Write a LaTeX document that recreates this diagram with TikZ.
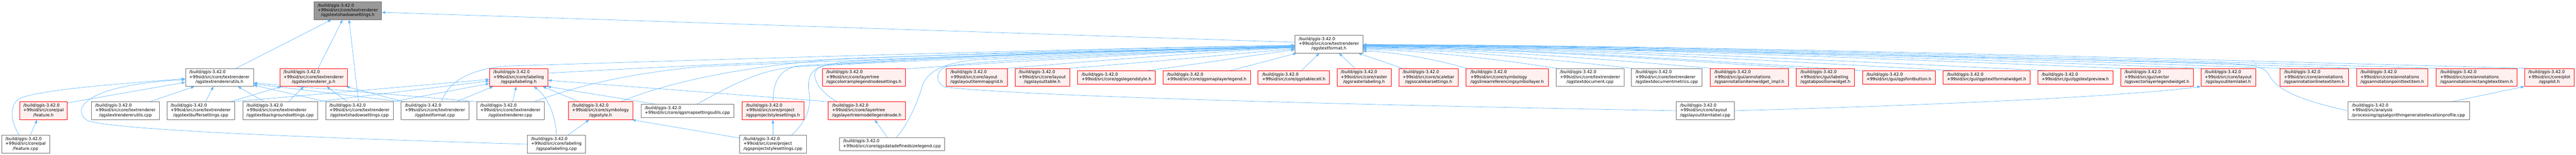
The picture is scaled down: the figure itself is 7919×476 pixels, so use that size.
\documentclass[tikz,border=0pt]{standalone}
\usepackage{fontspec}
\setmainfont{DejaVu Sans}
\usetikzlibrary{arrows.meta}
\definecolor{edgeblue}{HTML}{63B8FF}
\definecolor{redfill}{HTML}{FFF0F0}
\definecolor{rootfill}{HTML}{999999}
\definecolor{bordgray}{HTML}{707070}
\pgfdeclarelayer{bg}
\pgfsetlayers{bg,main}
\newcommand{\dxthree}[2]{\begin{tabular}{@{}l@{}}/build/qgis-3.42.0\\#1\\\multicolumn{1}{@{}c@{}}{#2}\end{tabular}}
\newcommand{\dxtwo}[1]{\begin{tabular}{@{}l@{}}/build/qgis-3.42.0\\#1\end{tabular}}
\begin{document}
\begin{tikzpicture}[x=1pt,y=-1pt,
  nd/.style={draw, rectangle, inner sep=0pt, line width=1pt, minimum height=55pt,
    font=\fontsize{12.8pt}{14.7pt}\selectfont},
  two/.style={minimum height=40pt},
  wn/.style={nd, fill=white, draw=bordgray},
  rn/.style={nd, fill=redfill, draw=red},
  rootnd/.style={nd, fill=rootfill, draw=bordgray},
  conn/.style={draw=edgeblue, line width=1.1pt, -{Triangle[length=11pt,width=8pt]}}]
\useasboundingbox (0,0) rectangle (7919,476);
% row 1
\node[rootnd, minimum width=208pt] (root) at (1069,32.5) {\dxthree{+99sid/src/core/textrenderer}{/qgstextshadowsettings.h}};
\node[wn, minimum width=208pt] (tf) at (4085,135.5) {\dxthree{+99sid/src/core/textrenderer}{/qgstextformat.h}};
% row 2
\node[wn, minimum width=209pt] (utilsh) at (674.5,238) {\dxthree{+99sid/src/core/textrenderer}{/qgstextrendererutils.h}};
\node[rn, minimum width=208pt] (rendp) at (964,238) {\dxthree{+99sid/src/core/textrenderer}{/qgstextrenderer\_p.h}};
\node[rn, minimum width=179pt] (pallh) at (1594.5,238) {\dxthree{+99sid/src/core/labeling}{/qgspallabeling.h}};
\node[rn, minimum width=255pt] (colorramp) at (2655.5,238) {\dxthree{+99sid/src/core/layertree}{/qgscolorramplegendnodesettings.h}};
\node[rn, minimum width=187pt] (mapgrid) at (3002.5,238) {\dxthree{+99sid/src/core/layout}{/qgslayoutitemmapgrid.h}};
\node[rn, minimum width=168pt] (ltable) at (3204,238) {\dxthree{+99sid/src/core/layout}{/qgslayouttable.h}};
\node[rn, two, minimum width=240pt] (lstyle) at (3432,238) {\dxtwo{+99sid/src/core/qgslegendstyle.h}};
\node[rn, two, minimum width=269pt] (mlegend) at (3709.5,238) {\dxtwo{+99sid/src/core/qgsmaplayerlegend.h}};
\node[rn, two, minimum width=220pt] (tcell) at (3977,238) {\dxtwo{+99sid/src/core/qgstablecell.h}};
\node[rn, minimum width=166pt] (rlabel) at (4193,238) {\dxthree{+99sid/src/core/raster}{/qgsrasterlabeling.h}};
\node[rn, minimum width=183pt] (scalebar) at (4391.5,238) {\dxthree{+99sid/src/core/scalebar}{/qgsscalebarsettings.h}};
\node[rn, minimum width=252pt] (linref) at (4633,238) {\dxthree{+99sid/src/core/symbology}{/qgslinearreferencingsymbollayer.h}};
\node[wn, minimum width=208pt] (tdoccpp) at (4888,238) {\dxthree{+99sid/src/core/textrenderer}{/qgstextdocument.cpp}};
\node[wn, minimum width=217pt] (tdocmcpp) at (5123.5,238) {\dxthree{+99sid/src/core/textrenderer}{/qgstextdocumentmetrics.cpp}};
\node[rn, minimum width=241pt] (annwidget) at (5377.5,238) {\dxthree{+99sid/src/gui/annotations}{/qgsannotationitemwidget\_impl.h}};
\node[rn, minimum width=179pt] (tabpos) at (5611.5,238) {\dxthree{+99sid/src/gui/labeling}{/qgstabpositionwidget.h}};
\node[rn, two, minimum width=223pt] (fontbtn) at (5837.5,238) {\dxtwo{+99sid/src/gui/qgsfontbutton.h}};
\node[rn, two, minimum width=268pt] (tfwidget) at (6107,238) {\dxtwo{+99sid/src/gui/qgstextformatwidget.h}};
\node[rn, two, minimum width=231pt] (tpreview) at (6379.5,238) {\dxtwo{+99sid/src/gui/qgstextpreview.h}};
\node[rn, minimum width=223pt] (vllw) at (6630.5,238) {\dxthree{+99sid/src/gui/vector}{/qgsvectorlayerlegendwidget.h}};
\node[rn, minimum width=168pt] (lilh) at (6850,238) {\dxthree{+99sid/src/core/layout}{/qgslayoutitemlabel.h}};
\node[rn, minimum width=211pt] (anline) at (7114.5,238) {\dxthree{+99sid/src/core/annotations}{/qgsannotationlinetextitem.h}};
\node[rn, minimum width=220pt] (anpoint) at (7354,238) {\dxthree{+99sid/src/core/annotations}{/qgsannotationpointtextitem.h}};
\node[rn, minimum width=248pt] (anrect) at (7613,238) {\dxthree{+99sid/src/core/annotations}{/qgsannotationrectangletextitem.h}};
\node[rn, minimum width=152pt] (ploth) at (7837,238) {\dxthree{+99sid/src/core/plot}{/qgsplot.h}};
% row 3
\node[rn, minimum width=147pt] (feath) at (133.5,340.5) {\dxthree{+99sid/src/core/pal}{/feature.h}};
\node[wn, minimum width=209pt] (rutilscpp) at (385.5,340.5) {\dxthree{+99sid/src/core/textrenderer}{/qgstextrendererutils.cpp}};
\node[wn, minimum width=208pt] (buffcpp) at (617,340.5) {\dxthree{+99sid/src/core/textrenderer}{/qgstextbuffersettings.cpp}};
\node[wn, minimum width=230pt] (bgcpp) at (861,340.5) {\dxthree{+99sid/src/core/textrenderer}{/qgstextbackgroundsettings.cpp}};
\node[wn, minimum width=208pt] (shadcpp) at (1105,340.5) {\dxthree{+99sid/src/core/textrenderer}{/qgstextshadowsettings.cpp}};
\node[wn, minimum width=208pt] (fmtcpp) at (1337,340.5) {\dxthree{+99sid/src/core/textrenderer}{/qgstextformat.cpp}};
\node[wn, minimum width=208pt] (trcpp) at (1569,340.5) {\dxthree{+99sid/src/core/textrenderer}{/qgstextrenderer.cpp}};
\node[rn, minimum width=198pt] (styleh) at (1846,340.5) {\dxthree{+99sid/src/core/symbology}{/qgsstyle.h}};
\node[wn, two, minimum width=286pt] (msucpp) at (2113,341) {\dxtwo{+99sid/src/core/qgsmapsettingsutils.cpp}};
\node[rn, minimum width=190pt] (pssh) at (2376,340.5) {\dxthree{+99sid/src/core/project}{/qgsprojectstylesettings.h}};
\node[rn, minimum width=237pt] (ltmlnh) at (2664.5,340.5) {\dxthree{+99sid/src/core/layertree}{/qgslayertreemodellegendnode.h}};
\node[wn, minimum width=178pt] (lilcpp) at (5242,340.5) {\dxthree{+99sid/src/core/layout}{/qgslayoutitemlabel.cpp}};
\node[wn, minimum width=374pt] (elevcpp) at (7404,340.5) {\dxthree{+99sid/src/analysis}{/processing/qgsalgorithmgenerateelevationprofile.cpp}};
% row 4
\node[wn, minimum width=147pt] (featcpp) at (78.5,443.5) {\dxthree{+99sid/src/core/pal}{/feature.cpp}};
\node[wn, minimum width=179pt] (pallcpp) at (1710.5,443.5) {\dxthree{+99sid/src/core/labeling}{/qgspallabeling.cpp}};
\node[wn, minimum width=206pt] (psscpp) at (2376,443.5) {\dxthree{+99sid/src/core/project}{/qgsprojectstylesettings.cpp}};
\node[wn, two, minimum width=324pt] (ddslcpp) at (2742,443) {\dxtwo{+99sid/src/core/qgsdatadefinedsizelegend.cpp}};

\begin{pgfonlayer}{bg}
% into the root
\draw[conn] ([xshift=51.5pt]utilsh.north) -- ([xshift=-50pt]root.south);
\draw[conn] ([xshift=14pt]rendp.north) -- ([xshift=-16pt]root.south);
\draw[conn] ([xshift=-3pt]shadcpp.north) -- ([xshift=4pt]root.south);
\draw[conn] ([yshift=5.5pt]tf.west) -- ([yshift=-5.5pt]root.east);
% feature
\draw[conn] ([xshift=14.5pt]featcpp.north) -- ([xshift=-19.5pt]feath.south);
\draw[conn] ([yshift=-4pt]feath.north east) -- ([yshift=-15pt]utilsh.west);
\draw[conn] ([xshift=-19.5pt]featcpp.north) .. controls (30,370) and (30,320) .. (60,303) .. controls (120,275) and (400,255) .. ([yshift=-4pt]utilsh.west);
\draw[conn] (pallcpp.west) .. controls (1000,425) and (330,400) .. (268,370) .. controls (220,340) and (250,262) .. ([yshift=-7pt]utilsh.west);
% into utils.h
\draw[conn] ([xshift=75.5pt]rutilscpp.north) -- ([xshift=-76.5pt]utilsh.south);
\draw[conn] ([xshift=15pt]buffcpp.north) -- ([xshift=-18.5pt]utilsh.south);
\draw[conn] ([xshift=-49pt]bgcpp.north) -- ([xshift=56.5pt]utilsh.south);
\draw[conn] (shadcpp.north west) -- ([yshift=-24pt]utilsh.east);
\draw[conn] ([xshift=-2pt]fmtcpp.north west) -- ([yshift=-20pt]utilsh.east);
\draw[conn] (trcpp.north west) -- ([yshift=-17pt]utilsh.east);
% into renderer_p.h
\draw[conn] ([xshift=92pt]buffcpp.north) -- ([xshift=-99pt]rendp.south);
\draw[conn] ([xshift=26pt]bgcpp.north) -- ([xshift=-30pt]rendp.south);
\draw[conn] ([xshift=-37pt]shadcpp.north) -- ([xshift=40pt]rendp.south);
\draw[conn] ([xshift=7pt]fmtcpp.north west) -- ([xshift=100pt]rendp.south);
% into pallabeling.h
\draw[conn] ([xshift=-3pt]buffcpp.north east) -- ([yshift=-6pt]pallh.west);
\draw[conn] (bgcpp.north east) -- ([yshift=-11pt]pallh.west);
\draw[conn] (shadcpp.north east) -- ([yshift=-19pt]pallh.west);
\draw[conn] ([xshift=67pt]fmtcpp.north) -- ([xshift=-78.5pt]pallh.south);
\draw[conn] ([xshift=7pt]trcpp.north) -- ([xshift=-7.5pt]pallh.south);
\draw[conn] (pallcpp.north) .. controls (1708,350) and (1680,295) .. ([xshift=46.5pt]pallh.south);
\draw[conn] ([xshift=-67pt]styleh.north) -- ([xshift=73.5pt]pallh.south);
\draw[conn] ([xshift=-97pt]msucpp.north) -- ([xshift=-2pt]pallh.south east);
\draw[conn] (ltmlnh.north west) -- ([yshift=-9pt]pallh.east);
% into qgsstyle.h and others
\draw[conn] ([xshift=35.5pt]pallcpp.north) -- ([xshift=-35pt]styleh.south);
\draw[conn] ([yshift=-9pt]psscpp.north west) -- ([xshift=-2pt]styleh.south east);
\draw[conn] (psscpp.north) -- (pssh.south);
\draw[conn] ([xshift=-14pt]ddslcpp.north) -- ([xshift=24.5pt]ltmlnh.south);
\draw[conn] (lilcpp.east) .. controls (6000,322) and (6550,295) .. (lilh.south west);
\draw[conn] ([xshift=134pt]elevcpp.north) -- (ploth.south west);
% into qgstextformat.h from the left
\draw[conn] ([xshift=21pt]fmtcpp.north) .. controls (1375,255) and (1440,212) .. (1560,203) .. controls (2300,180) and (3300,150) .. ([yshift=-3.5pt]tf.west);
\draw[conn] ([yshift=-15pt]pallh.north east) .. controls (2300,190) and (3300,150) .. ([yshift=-4.5pt]tf.west);
\draw[conn] ([xshift=74pt]trcpp.north) .. controls (1760,270) and (1900,230) .. (2150,205) .. controls (2800,178) and (3500,152) .. ([yshift=-5.5pt]tf.west);
\draw[conn] ([xshift=63pt]styleh.north) .. controls (2030,262) and (2250,205) .. (2600,180) .. controls (3100,162) and (3600,152) .. ([yshift=-6.5pt]tf.west);
\draw[conn] ([xshift=29pt]msucpp.north) .. controls (2250,262) and (2330,215) .. (2450,205) .. controls (3000,178) and (3600,152) .. ([yshift=-7.5pt]tf.west);
\draw[conn] (pssh.north) .. controls (2378,250) and (2395,210) .. (2460,202) .. controls (2900,175) and (3500,153) .. ([yshift=-8pt]tf.west);
\draw[conn] ([xshift=57pt]psscpp.north) .. controls (2475,380) and (2495,330) .. (2488,290) .. controls (2480,240) and (2490,208) .. (2545,200) .. controls (2950,172) and (3500,154) .. ([yshift=-8.5pt]tf.west);
\draw[conn] ([xshift=-91.5pt]ltmlnh.north) .. controls (2530,290) and (2500,250) .. (2505,225) .. controls (2510,200) and (2560,193) .. (2650,187) .. controls (3100,165) and (3600,154) .. ([yshift=-9pt]tf.west);
\draw[conn] ([yshift=-2pt]colorramp.north east) .. controls (3100,190) and (3600,160) .. ([yshift=-9.5pt]tf.west);
\draw[conn] ([xshift=14pt]ddslcpp.north) .. controls (2800,370) and (2825,300) .. (2835,265) .. controls (2850,220) and (2900,195) .. (2990,185) .. controls (3300,168) and (3700,155) .. ([yshift=-9pt]tf.west);
\draw[conn] (lilcpp.west) .. controls (4300,325) and (3200,300) .. (2905,268) .. controls (2875,255) and (2875,215) .. (2910,205) .. controls (3000,182) and (3700,156) .. ([yshift=-10pt]tf.west);
\draw[conn] (mapgrid.north east) .. controls (3400,185) and (3700,160) .. ([yshift=-11.5pt]tf.west);
\draw[conn] (ltable.north east) .. controls (3550,190) and (3800,165) .. ([yshift=-14.5pt]tf.west);
\draw[conn] ([xshift=92pt]lstyle.north) .. controls (3700,195) and (3850,170) .. ([yshift=-17.5pt]tf.west);
\draw[conn] ([xshift=71.5pt]mlegend.north) -- ([xshift=-99pt]tf.south);
\draw[conn] ([xshift=23pt]tcell.north) -- ([xshift=-29pt]tf.south);
\draw[conn] ([xshift=-28pt]rlabel.north) -- ([xshift=31pt]tf.south);
\draw[conn] ([xshift=-80.5pt]scalebar.north) -- ([xshift=90pt]tf.south);
% into qgstextformat.h from the right
\draw[conn] ([xshift=2pt]linref.north west) .. controls (4413,182) and (4285,159) .. ([yshift=-21.5pt]tf.east);
\draw[conn] ([xshift=2pt]tdoccpp.north west) .. controls (4607,182) and (4368,154) .. ([yshift=-16.5pt]tf.east);
\draw[conn] ([xshift=2pt]tdocmcpp.north west) .. controls (4769,182) and (4437,151) .. ([yshift=-13.5pt]tf.east);
\draw[conn] ([xshift=2pt]annwidget.north west) .. controls (4938,182) and (4510,149) .. ([yshift=-11.5pt]tf.east);
\draw[conn] ([xshift=2pt]tabpos.north west) .. controls (5124,182) and (4590,147.5) .. ([yshift=-10pt]tf.east);
\draw[conn] ([xshift=2pt]fontbtn.north west) .. controls (5266,188) and (4651,146) .. ([yshift=-8.5pt]tf.east);
\draw[conn] ([xshift=40pt]tfwidget.north west) .. controls (5466,188) and (4736,145) .. ([yshift=-7.5pt]tf.east);
\draw[conn] ([xshift=35pt]tpreview.north west) .. controls (5666,188) and (4822,144) .. ([yshift=-6.5pt]tf.east);
\draw[conn] ([xshift=2pt]vllw.north west) .. controls (5821,182) and (4889,143) .. ([yshift=-5.5pt]tf.east);
\draw[conn] ([xshift=2pt]lilh.north west) .. controls (5994,182) and (4963,142) .. ([yshift=-4.5pt]tf.east);
\draw[conn] ([xshift=2pt]anline.north west) .. controls (6164,182) and (5036,141) .. ([yshift=-3.5pt]tf.east);
\draw[conn] ([xshift=2pt]anpoint.north west) .. controls (6329,182) and (5106,140.5) .. ([yshift=-3pt]tf.east);
\draw[conn] ([xshift=2pt]anrect.north west) .. controls (6500,182) and (5180,139.5) .. ([yshift=-2pt]tf.east);
\draw[conn] ([xshift=2pt]ploth.north west) .. controls (6691,182) and (5261,139) .. ([yshift=-1.5pt]tf.east);
\draw[conn] (elevcpp.west) .. controls (7080,310) and (7000,280) .. (6975,230) .. controls (6960,205) and (6930,200) .. (6850,195) .. controls (6000,172) and (4800,150) .. ([yshift=-2.5pt]tf.east);
\end{pgfonlayer}
\end{tikzpicture}
\end{document}
